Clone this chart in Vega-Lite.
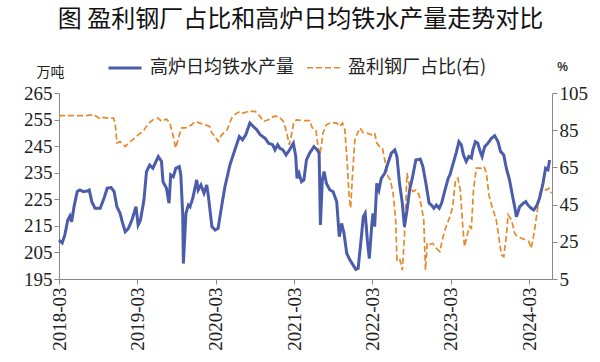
{
"$schema": "https://vega.github.io/schema/vega-lite/v6.json",
"width": 493, "height": 186,
"autosize": {"type": "none"},
"padding": {"left": 59, "top": 93, "right": 48, "bottom": 83},
"background": "white",
"title": {"text": "图 盈利钢厂占比和高炉日均铁水产量走势对比", "font": "Noto Sans CJK SC", "fontSize": 24, "fontWeight": "normal", "color": "#111", "anchor": "middle", "offset": 18, "dx": -5},
"config": {
  "view": {"stroke": null},
  "axis": {"domainColor": "#888", "tickColor": "#888", "labelFont": "Liberation Serif", "labelFontSize": 19, "labelColor": "#222", "grid": false, "tickSize": 5, "labelPadding": 2},
  "legend": {"title": null, "orient": "none", "legendX": 48, "legendY": -43, "direction": "horizontal", "symbolType": "stroke", "symbolSize": 1089, "labelFont": "Noto Sans CJK SC", "labelFontSize": 18, "labelColor": "#222", "labelOffset": 7, "columnPadding": 9, "padding": 0, "labelLimit": 300}
},
"data": {"values": [
{"d":"2018-03-01","s":"高炉日均铁水产量","v":209.6},
{"d":"2018-03-16","s":"高炉日均铁水产量","v":208.6},
{"d":"2018-03-28","s":"高炉日均铁水产量","v":211.5},
{"d":"2018-04-11","s":"高炉日均铁水产量","v":217.2},
{"d":"2018-04-21","s":"高炉日均铁水产量","v":218.7},
{"d":"2018-04-29","s":"高炉日均铁水产量","v":216.5},
{"d":"2018-05-10","s":"高炉日均铁水产量","v":222.2},
{"d":"2018-05-25","s":"高炉日均铁水产量","v":227.9},
{"d":"2018-06-07","s":"高炉日均铁水产量","v":228.5},
{"d":"2018-06-22","s":"高炉日均铁水产量","v":227.9},
{"d":"2018-07-11","s":"高炉日均铁水产量","v":228.1},
{"d":"2018-07-20","s":"高炉日均铁水产量","v":228.5},
{"d":"2018-08-01","s":"高炉日均铁水产量","v":224.1},
{"d":"2018-08-16","s":"高炉日均铁水产量","v":221.6},
{"d":"2018-09-09","s":"高炉日均铁水产量","v":221.6},
{"d":"2018-09-27","s":"高炉日均铁水产量","v":225.4},
{"d":"2018-10-12","s":"高炉日均铁水产量","v":229.2},
{"d":"2018-10-30","s":"高炉日均铁水产量","v":229.4},
{"d":"2018-11-13","s":"高炉日均铁水产量","v":227.9},
{"d":"2018-11-26","s":"高炉日均铁水产量","v":222.2},
{"d":"2018-12-11","s":"高炉日均铁水产量","v":219.7},
{"d":"2018-12-23","s":"高炉日均铁水产量","v":215.9},
{"d":"2019-01-04","s":"高炉日均铁水产量","v":212.8},
{"d":"2019-01-19","s":"高炉日均铁水产量","v":214.1},
{"d":"2019-02-04","s":"高炉日均铁水产量","v":217.2},
{"d":"2019-02-23","s":"高炉日均铁水产量","v":222.2},
{"d":"2019-03-05","s":"高炉日均铁水产量","v":215.3},
{"d":"2019-03-16","s":"高炉日均铁水产量","v":217.2},
{"d":"2019-04-01","s":"高炉日均铁水产量","v":224.7},
{"d":"2019-04-13","s":"高炉日均铁水产量","v":235.4},
{"d":"2019-04-28","s":"高炉日均铁水产量","v":237.9},
{"d":"2019-05-13","s":"高炉日均铁水产量","v":236.7},
{"d":"2019-06-07","s":"高炉日均铁水产量","v":241.1},
{"d":"2019-06-22","s":"高炉日均铁水产量","v":239.2},
{"d":"2019-06-29","s":"高炉日均铁水产量","v":231.6},
{"d":"2019-07-15","s":"高炉日均铁水产量","v":229.2},
{"d":"2019-07-27","s":"高炉日均铁水产量","v":223.5},
{"d":"2019-08-04","s":"高炉日均铁水产量","v":234.2},
{"d":"2019-08-16","s":"高炉日均铁水产量","v":233.5},
{"d":"2019-08-28","s":"高炉日均铁水产量","v":236.7},
{"d":"2019-09-13","s":"高炉日均铁水产量","v":237.3},
{"d":"2019-09-20","s":"高炉日均铁水产量","v":234.2},
{"d":"2019-09-29","s":"高炉日均铁水产量","v":219.1},
{"d":"2019-10-02","s":"高炉日均铁水产量","v":200.8},
{"d":"2019-10-14","s":"高炉日均铁水产量","v":219.7},
{"d":"2019-10-25","s":"高炉日均铁水产量","v":222.8},
{"d":"2019-11-02","s":"高炉日均铁水产量","v":222.2},
{"d":"2019-11-15","s":"高炉日均铁水产量","v":225.4},
{"d":"2019-12-03","s":"高炉日均铁水产量","v":232.3},
{"d":"2019-12-10","s":"高炉日均铁水产量","v":228.5},
{"d":"2019-12-23","s":"高炉日均铁水产量","v":230.4},
{"d":"2020-01-06","s":"高炉日均铁水产量","v":227.3},
{"d":"2020-01-19","s":"高炉日均铁水产量","v":230.4},
{"d":"2020-01-26","s":"高炉日均铁水产量","v":226.6},
{"d":"2020-02-12","s":"高炉日均铁水产量","v":214.7},
{"d":"2020-02-27","s":"高炉日均铁水产量","v":213.4},
{"d":"2020-03-12","s":"高炉日均铁水产量","v":214.1},
{"d":"2020-03-28","s":"高炉日均铁水产量","v":222.2},
{"d":"2020-04-13","s":"高炉日均铁水产量","v":229.8},
{"d":"2020-05-06","s":"高炉日均铁水产量","v":237.9},
{"d":"2020-05-29","s":"高炉日均铁水产量","v":243.6},
{"d":"2020-06-19","s":"高炉日均铁水产量","v":248.6},
{"d":"2020-07-04","s":"高炉日均铁水产量","v":247.4},
{"d":"2020-07-19","s":"高炉日均铁水产量","v":249.3},
{"d":"2020-08-07","s":"高炉日均铁水产量","v":253.7},
{"d":"2020-08-23","s":"高炉日均铁水产量","v":252.4},
{"d":"2020-09-08","s":"高炉日均铁水产量","v":251.2},
{"d":"2020-09-24","s":"高炉日均铁水产量","v":249.3},
{"d":"2020-10-06","s":"高炉日均铁水产量","v":248.6},
{"d":"2020-10-17","s":"高炉日均铁水产量","v":248.0},
{"d":"2020-11-02","s":"高炉日均铁水产量","v":246.1},
{"d":"2020-11-22","s":"高炉日均铁水产量","v":245.5},
{"d":"2020-12-02","s":"高炉日均铁水产量","v":243.6},
{"d":"2020-12-15","s":"高炉日均铁水产量","v":245.5},
{"d":"2020-12-25","s":"高炉日均铁水产量","v":244.2},
{"d":"2021-01-08","s":"高炉日均铁水产量","v":243.6},
{"d":"2021-01-23","s":"高炉日均铁水产量","v":241.7},
{"d":"2021-02-08","s":"高炉日均铁水产量","v":243.6},
{"d":"2021-02-26","s":"高炉日均铁水产量","v":246.1},
{"d":"2021-03-09","s":"高炉日均铁水产量","v":241.1},
{"d":"2021-03-15","s":"高炉日均铁水产量","v":232.9},
{"d":"2021-03-24","s":"高炉日均铁水产量","v":234.8},
{"d":"2021-04-05","s":"高炉日均铁水产量","v":231.6},
{"d":"2021-04-16","s":"高炉日均铁水产量","v":232.3},
{"d":"2021-04-28","s":"高炉日均铁水产量","v":239.8},
{"d":"2021-05-13","s":"高炉日均铁水产量","v":242.4},
{"d":"2021-06-02","s":"高炉日均铁水产量","v":244.8},
{"d":"2021-06-17","s":"高炉日均铁水产量","v":243.6},
{"d":"2021-06-26","s":"高炉日均铁水产量","v":242.4},
{"d":"2021-07-02","s":"高炉日均铁水产量","v":215.3},
{"d":"2021-07-11","s":"高炉日均铁水产量","v":232.3},
{"d":"2021-07-19","s":"高炉日均铁水产量","v":235.4},
{"d":"2021-07-30","s":"高炉日均铁水产量","v":231.0},
{"d":"2021-08-15","s":"高炉日均铁水产量","v":228.5},
{"d":"2021-08-30","s":"高炉日均铁水产量","v":227.9},
{"d":"2021-09-16","s":"高炉日均铁水产量","v":224.1},
{"d":"2021-09-28","s":"高炉日均铁水产量","v":210.9},
{"d":"2021-10-09","s":"高炉日均铁水产量","v":215.9},
{"d":"2021-10-20","s":"高炉日均铁水产量","v":212.2},
{"d":"2021-11-02","s":"高炉日均铁水产量","v":204.6},
{"d":"2021-11-17","s":"高炉日均铁水产量","v":202.1},
{"d":"2021-12-02","s":"高炉日均铁水产量","v":200.2},
{"d":"2021-12-14","s":"高炉日均铁水产量","v":198.6},
{"d":"2021-12-25","s":"高炉日均铁水产量","v":199.0},
{"d":"2022-01-06","s":"高炉日均铁水产量","v":208.4},
{"d":"2022-01-18","s":"高炉日均铁水产量","v":218.4},
{"d":"2022-01-27","s":"高炉日均铁水产量","v":219.7},
{"d":"2022-02-06","s":"高炉日均铁水产量","v":209.6},
{"d":"2022-02-15","s":"高炉日均铁水产量","v":202.7},
{"d":"2022-02-26","s":"高炉日均铁水产量","v":214.7},
{"d":"2022-03-04","s":"高炉日均铁水产量","v":219.7},
{"d":"2022-03-12","s":"高炉日均铁水产量","v":214.7},
{"d":"2022-03-22","s":"高炉日均铁水产量","v":231.0},
{"d":"2022-04-01","s":"高炉日均铁水产量","v":228.5},
{"d":"2022-04-12","s":"高炉日均铁水产量","v":232.9},
{"d":"2022-04-28","s":"高炉日均铁水产量","v":234.8},
{"d":"2022-05-13","s":"高炉日均铁水产量","v":238.6},
{"d":"2022-05-29","s":"高炉日均铁水产量","v":242.4},
{"d":"2022-06-14","s":"高炉日均铁水产量","v":243.6},
{"d":"2022-06-24","s":"高炉日均铁水产量","v":241.1},
{"d":"2022-07-06","s":"高炉日均铁水产量","v":231.0},
{"d":"2022-07-19","s":"高炉日均铁水产量","v":223.5},
{"d":"2022-07-29","s":"高炉日均铁水产量","v":214.7},
{"d":"2022-08-10","s":"高炉日均铁水产量","v":221.0},
{"d":"2022-08-22","s":"高炉日均铁水产量","v":228.5},
{"d":"2022-09-05","s":"高炉日均铁水产量","v":233.5},
{"d":"2022-09-20","s":"高炉日均铁水产量","v":239.8},
{"d":"2022-10-11","s":"高炉日均铁水产量","v":240.1},
{"d":"2022-10-23","s":"高炉日均铁水产量","v":237.3},
{"d":"2022-11-06","s":"高炉日均铁水产量","v":231.0},
{"d":"2022-11-21","s":"高炉日均铁水产量","v":223.5},
{"d":"2022-12-02","s":"高炉日均铁水产量","v":222.8},
{"d":"2022-12-13","s":"高炉日均铁水产量","v":221.6},
{"d":"2022-12-25","s":"高炉日均铁水产量","v":222.8},
{"d":"2023-01-07","s":"高炉日均铁水产量","v":221.6},
{"d":"2023-01-18","s":"高炉日均铁水产量","v":223.5},
{"d":"2023-02-03","s":"高炉日均铁水产量","v":228.5},
{"d":"2023-02-18","s":"高炉日均铁水产量","v":232.9},
{"d":"2023-02-26","s":"高炉日均铁水产量","v":234.2},
{"d":"2023-03-11","s":"高炉日均铁水产量","v":237.9},
{"d":"2023-03-27","s":"高炉日均铁水产量","v":242.4},
{"d":"2023-04-09","s":"高炉日均铁水产量","v":246.7},
{"d":"2023-04-20","s":"高炉日均铁水产量","v":245.5},
{"d":"2023-04-30","s":"高炉日均铁水产量","v":241.7},
{"d":"2023-05-13","s":"高炉日均铁水产量","v":239.2},
{"d":"2023-05-25","s":"高炉日均铁水产量","v":241.1},
{"d":"2023-06-06","s":"高炉日均铁水产量","v":240.5},
{"d":"2023-06-13","s":"高炉日均铁水产量","v":243.6},
{"d":"2023-06-25","s":"高炉日均铁水产量","v":246.7},
{"d":"2023-07-06","s":"高炉日均铁水产量","v":246.1},
{"d":"2023-07-17","s":"高炉日均铁水产量","v":243.0},
{"d":"2023-07-26","s":"高炉日均铁水产量","v":241.1},
{"d":"2023-08-07","s":"高炉日均铁水产量","v":244.8},
{"d":"2023-08-22","s":"高炉日均铁水产量","v":246.1},
{"d":"2023-09-08","s":"高炉日均铁水产量","v":248.0},
{"d":"2023-09-23","s":"高炉日均铁水产量","v":248.9},
{"d":"2023-10-08","s":"高炉日均铁水产量","v":246.7},
{"d":"2023-10-20","s":"高炉日均铁水产量","v":243.0},
{"d":"2023-11-04","s":"高炉日均铁水产量","v":241.7},
{"d":"2023-11-16","s":"高炉日均铁水产量","v":236.7},
{"d":"2023-12-01","s":"高炉日均铁水产量","v":232.3},
{"d":"2023-12-14","s":"高炉日均铁水产量","v":226.6},
{"d":"2023-12-25","s":"高炉日均铁水产量","v":222.2},
{"d":"2024-01-02","s":"高炉日均铁水产量","v":218.4},
{"d":"2024-01-10","s":"高炉日均铁水产量","v":220.3},
{"d":"2024-01-17","s":"高炉日均铁水产量","v":222.2},
{"d":"2024-02-03","s":"高炉日均铁水产量","v":223.5},
{"d":"2024-02-15","s":"高炉日均铁水产量","v":224.1},
{"d":"2024-02-25","s":"高炉日均铁水产量","v":222.8},
{"d":"2024-03-11","s":"高炉日均铁水产量","v":221.6},
{"d":"2024-03-23","s":"高炉日均铁水产量","v":221.0},
{"d":"2024-04-07","s":"高炉日均铁水产量","v":222.8},
{"d":"2024-04-19","s":"高炉日均铁水产量","v":225.4},
{"d":"2024-05-05","s":"高炉日均铁水产量","v":231.0},
{"d":"2024-05-17","s":"高炉日均铁水产量","v":236.7},
{"d":"2024-05-28","s":"高炉日均铁水产量","v":236.1},
{"d":"2024-06-05","s":"高炉日均铁水产量","v":239.8},
{"d":"2018-03-01","s":"盈利钢厂占比(右)","v":92.8},
{"d":"2018-05-06","s":"盈利钢厂占比(右)","v":92.8},
{"d":"2018-07-08","s":"盈利钢厂占比(右)","v":92.8},
{"d":"2018-08-08","s":"盈利钢厂占比(右)","v":93.3},
{"d":"2018-08-24","s":"盈利钢厂占比(右)","v":92.4},
{"d":"2018-09-09","s":"盈利钢厂占比(右)","v":91.0},
{"d":"2018-09-24","s":"盈利钢厂占比(右)","v":91.9},
{"d":"2018-10-17","s":"盈利钢厂占比(右)","v":91.5},
{"d":"2018-11-10","s":"盈利钢厂占比(右)","v":91.5},
{"d":"2018-11-18","s":"盈利钢厂占比(右)","v":88.8},
{"d":"2018-11-26","s":"盈利钢厂占比(右)","v":78.1},
{"d":"2018-12-11","s":"盈利钢厂占比(右)","v":78.9},
{"d":"2019-01-04","s":"盈利钢厂占比(右)","v":76.2},
{"d":"2019-01-19","s":"盈利钢厂占比(右)","v":78.1},
{"d":"2019-02-11","s":"盈利钢厂占比(右)","v":80.2},
{"d":"2019-03-05","s":"盈利钢厂占比(右)","v":82.5},
{"d":"2019-03-28","s":"盈利钢厂占比(右)","v":84.3},
{"d":"2019-04-21","s":"盈利钢厂占比(右)","v":88.5},
{"d":"2019-05-13","s":"盈利钢厂占比(右)","v":90.6},
{"d":"2019-06-07","s":"盈利钢厂占比(右)","v":91.5},
{"d":"2019-06-22","s":"盈利钢厂占比(右)","v":89.7},
{"d":"2019-07-15","s":"盈利钢厂占比(右)","v":91.0},
{"d":"2019-07-31","s":"盈利钢厂占比(右)","v":88.8},
{"d":"2019-08-16","s":"盈利钢厂占比(右)","v":81.6},
{"d":"2019-08-27","s":"盈利钢厂占比(右)","v":75.4},
{"d":"2019-09-09","s":"盈利钢厂占比(右)","v":80.8},
{"d":"2019-09-24","s":"盈利钢厂占比(右)","v":86.2},
{"d":"2019-10-10","s":"盈利钢厂占比(右)","v":86.2},
{"d":"2019-10-25","s":"盈利钢厂占比(右)","v":87.0},
{"d":"2019-11-10","s":"盈利钢厂占比(右)","v":87.9},
{"d":"2019-11-26","s":"盈利钢厂占比(右)","v":89.7},
{"d":"2019-12-18","s":"盈利钢厂占比(右)","v":88.8},
{"d":"2020-01-11","s":"盈利钢厂占比(右)","v":87.9},
{"d":"2020-02-01","s":"盈利钢厂占比(右)","v":87.0},
{"d":"2020-02-12","s":"盈利钢厂占比(右)","v":83.5},
{"d":"2020-02-27","s":"盈利钢厂占比(右)","v":81.6},
{"d":"2020-03-12","s":"盈利钢厂占比(右)","v":78.9},
{"d":"2020-03-28","s":"盈利钢厂占比(右)","v":82.5},
{"d":"2020-04-23","s":"盈利钢厂占比(右)","v":85.2},
{"d":"2020-05-14","s":"盈利钢厂占比(右)","v":91.5},
{"d":"2020-06-07","s":"盈利钢厂占比(右)","v":94.2},
{"d":"2020-06-22","s":"盈利钢厂占比(右)","v":95.1},
{"d":"2020-07-07","s":"盈利钢厂占比(右)","v":94.2},
{"d":"2020-07-30","s":"盈利钢厂占比(右)","v":95.1},
{"d":"2020-09-01","s":"盈利钢厂占比(右)","v":95.1},
{"d":"2020-09-24","s":"盈利钢厂占比(右)","v":92.4},
{"d":"2020-10-09","s":"盈利钢厂占比(右)","v":89.7},
{"d":"2020-11-02","s":"盈利钢厂占比(右)","v":90.6},
{"d":"2020-11-25","s":"盈利钢厂占比(右)","v":92.4},
{"d":"2020-12-18","s":"盈利钢厂占比(右)","v":92.4},
{"d":"2021-01-11","s":"盈利钢厂占比(右)","v":89.7},
{"d":"2021-01-26","s":"盈利钢厂占比(右)","v":83.5},
{"d":"2021-02-07","s":"盈利钢厂占比(右)","v":77.2},
{"d":"2021-02-19","s":"盈利钢厂占比(右)","v":83.6},
{"d":"2021-02-28","s":"盈利钢厂占比(右)","v":89.3},
{"d":"2021-03-12","s":"盈利钢厂占比(右)","v":90.6},
{"d":"2021-04-12","s":"盈利钢厂占比(右)","v":90.2},
{"d":"2021-05-13","s":"盈利钢厂占比(右)","v":90.2},
{"d":"2021-05-25","s":"盈利钢厂占比(右)","v":86.2},
{"d":"2021-06-11","s":"盈利钢厂占比(右)","v":85.2},
{"d":"2021-06-21","s":"盈利钢厂占比(右)","v":76.2},
{"d":"2021-06-29","s":"盈利钢厂占比(右)","v":71.8},
{"d":"2021-07-07","s":"盈利钢厂占比(右)","v":77.2},
{"d":"2021-07-14","s":"盈利钢厂占比(右)","v":83.5},
{"d":"2021-07-30","s":"盈利钢厂占比(右)","v":87.9},
{"d":"2021-08-23","s":"盈利钢厂占比(右)","v":89.2},
{"d":"2021-09-16","s":"盈利钢厂占比(右)","v":88.8},
{"d":"2021-10-01","s":"盈利钢厂占比(右)","v":87.0},
{"d":"2021-10-13","s":"盈利钢厂占比(右)","v":88.8},
{"d":"2021-10-24","s":"盈利钢厂占比(右)","v":85.2},
{"d":"2021-11-04","s":"盈利钢厂占比(右)","v":67.3},
{"d":"2021-11-13","s":"盈利钢厂占比(右)","v":49.3},
{"d":"2021-11-20","s":"盈利钢厂占比(右)","v":43.1},
{"d":"2021-11-29","s":"盈利钢厂占比(右)","v":61.9},
{"d":"2021-12-10","s":"盈利钢厂占比(右)","v":79.9},
{"d":"2021-12-25","s":"盈利钢厂占比(右)","v":84.3},
{"d":"2022-01-03","s":"盈利钢厂占比(右)","v":86.2},
{"d":"2022-01-18","s":"盈利钢厂占比(右)","v":83.5},
{"d":"2022-02-04","s":"盈利钢厂占比(右)","v":83.5},
{"d":"2022-02-26","s":"盈利钢厂占比(右)","v":82.5},
{"d":"2022-03-12","s":"盈利钢厂占比(右)","v":83.5},
{"d":"2022-03-22","s":"盈利钢厂占比(右)","v":78.1},
{"d":"2022-04-04","s":"盈利钢厂占比(右)","v":76.2},
{"d":"2022-04-17","s":"盈利钢厂占比(右)","v":75.4},
{"d":"2022-04-28","s":"盈利钢厂占比(右)","v":69.1},
{"d":"2022-05-13","s":"盈利钢厂占比(右)","v":60.1},
{"d":"2022-05-24","s":"盈利钢厂占比(右)","v":58.3},
{"d":"2022-06-06","s":"盈利钢厂占比(右)","v":51.1},
{"d":"2022-06-18","s":"盈利钢厂占比(右)","v":36.8},
{"d":"2022-06-24","s":"盈利钢厂占比(右)","v":15.2},
{"d":"2022-07-06","s":"盈利钢厂占比(右)","v":16.1},
{"d":"2022-07-19","s":"盈利钢厂占比(右)","v":9.8},
{"d":"2022-07-29","s":"盈利钢厂占比(右)","v":27.8},
{"d":"2022-08-10","s":"盈利钢厂占比(右)","v":61.9},
{"d":"2022-08-22","s":"盈利钢厂占比(右)","v":54.7},
{"d":"2022-09-07","s":"盈利钢厂占比(右)","v":52.0},
{"d":"2022-09-20","s":"盈利钢厂占比(右)","v":52.9},
{"d":"2022-10-05","s":"盈利钢厂占比(右)","v":50.2},
{"d":"2022-10-16","s":"盈利钢厂占比(右)","v":43.9},
{"d":"2022-10-27","s":"盈利钢厂占比(右)","v":36.8},
{"d":"2022-11-04","s":"盈利钢厂占比(右)","v":9.8},
{"d":"2022-11-12","s":"盈利钢厂占比(右)","v":24.2},
{"d":"2022-11-21","s":"盈利钢厂占比(右)","v":23.3},
{"d":"2022-12-07","s":"盈利钢厂占比(右)","v":24.2},
{"d":"2022-12-25","s":"盈利钢厂占比(右)","v":21.5},
{"d":"2023-01-10","s":"盈利钢厂占比(右)","v":19.7},
{"d":"2023-01-25","s":"盈利钢厂占比(右)","v":27.8},
{"d":"2023-02-11","s":"盈利钢厂占比(右)","v":34.1},
{"d":"2023-02-26","s":"盈利钢厂占比(右)","v":38.5},
{"d":"2023-03-11","s":"盈利钢厂占比(右)","v":43.9},
{"d":"2023-03-24","s":"盈利钢厂占比(右)","v":58.3},
{"d":"2023-04-04","s":"盈利钢厂占比(右)","v":59.2},
{"d":"2023-04-15","s":"盈利钢厂占比(右)","v":52.9},
{"d":"2023-04-27","s":"盈利钢厂占比(右)","v":33.2},
{"d":"2023-05-05","s":"盈利钢厂占比(右)","v":22.4},
{"d":"2023-05-16","s":"盈利钢厂占比(右)","v":27.8},
{"d":"2023-05-28","s":"盈利钢厂占比(右)","v":33.2},
{"d":"2023-06-06","s":"盈利钢厂占比(右)","v":32.3},
{"d":"2023-06-16","s":"盈利钢厂占比(右)","v":52.9},
{"d":"2023-06-29","s":"盈利钢厂占比(右)","v":64.6},
{"d":"2023-07-22","s":"盈利钢厂占比(右)","v":64.6},
{"d":"2023-08-04","s":"盈利钢厂占比(右)","v":65.5},
{"d":"2023-08-15","s":"盈利钢厂占比(右)","v":61.9},
{"d":"2023-08-27","s":"盈利钢厂占比(右)","v":50.2},
{"d":"2023-09-08","s":"盈利钢厂占比(右)","v":44.8},
{"d":"2023-09-18","s":"盈利钢厂占比(右)","v":41.2},
{"d":"2023-09-30","s":"盈利钢厂占比(右)","v":36.8},
{"d":"2023-10-13","s":"盈利钢厂占比(右)","v":26.9},
{"d":"2023-10-24","s":"盈利钢厂占比(右)","v":17.9},
{"d":"2023-11-04","s":"盈利钢厂占比(右)","v":17.0},
{"d":"2023-11-16","s":"盈利钢厂占比(右)","v":27.8},
{"d":"2023-11-24","s":"盈利钢厂占比(右)","v":39.5},
{"d":"2023-12-10","s":"盈利钢厂占比(右)","v":36.8},
{"d":"2023-12-25","s":"盈利钢厂占比(右)","v":29.6},
{"d":"2024-01-05","s":"盈利钢厂占比(右)","v":27.8},
{"d":"2024-01-25","s":"盈利钢厂占比(右)","v":26.9},
{"d":"2024-02-15","s":"盈利钢厂占比(右)","v":26.0},
{"d":"2024-02-29","s":"盈利钢厂占比(右)","v":25.1},
{"d":"2024-03-11","s":"盈利钢厂占比(右)","v":21.5},
{"d":"2024-03-23","s":"盈利钢厂占比(右)","v":28.7},
{"d":"2024-04-07","s":"盈利钢厂占比(右)","v":40.4},
{"d":"2024-04-19","s":"盈利钢厂占比(右)","v":51.1},
{"d":"2024-05-05","s":"盈利钢厂占比(右)","v":53.8},
{"d":"2024-05-20","s":"盈利钢厂占比(右)","v":52.9},
{"d":"2024-06-02","s":"盈利钢厂占比(右)","v":53.8},
{"d":"2024-06-13","s":"盈利钢厂占比(右)","v":51.1}
]},
"encoding": {
  "x": {"field": "d", "type": "temporal",
    "scale": {"type": "utc", "domain": [{"year": 2018, "month": 3, "date": 1, "utc": true}, {"year": 2024, "month": 6, "date": 16, "utc": true}]},
    "axis": {"title": null, "format": "%Y-%m", "labelAngle": -90, "labelPadding": 3,
      "values": [{"year": 2018, "month": 3, "date": 1, "utc": true}, {"year": 2019, "month": 3, "date": 1, "utc": true}, {"year": 2020, "month": 3, "date": 1, "utc": true}, {"year": 2021, "month": 3, "date": 1, "utc": true}, {"year": 2022, "month": 3, "date": 1, "utc": true}, {"year": 2023, "month": 3, "date": 1, "utc": true}, {"year": 2024, "month": 3, "date": 1, "utc": true}]}},
  "color": {"field": "s", "type": "nominal", "scale": {"domain": ["高炉日均铁水产量", "盈利钢厂占比(右)"], "range": ["#4b5cab", "#e5892a"]}},
  "strokeDash": {"field": "s", "type": "nominal", "scale": {"domain": ["高炉日均铁水产量", "盈利钢厂占比(右)"], "range": [[1, 0], [6, 3]]}},
  "strokeWidth": {"field": "s", "type": "nominal", "scale": {"domain": ["高炉日均铁水产量", "盈利钢厂占比(右)"], "range": [3, 1.7]}}
},
"layer": [
  {"transform": [{"filter": "datum.s === '盈利钢厂占比(右)'"}],
   "mark": {"type": "line"},
   "encoding": {"y": {"field": "v", "type": "quantitative", "scale": {"domain": [5, 105], "nice": false, "zero": false},
     "axis": {"orient": "right", "values": [5, 25, 45, 65, 85, 105], "title": "%", "titleAngle": 0, "titleX": 10, "titleY": -27, "titleAlign": "center", "titleBaseline": "middle", "titleFont": "Liberation Sans", "titleFontSize": 12, "titleFontWeight": "bold", "titleColor": "#333"}}}},
  {"transform": [{"filter": "datum.s === '高炉日均铁水产量'"}],
   "mark": {"type": "line"},
   "encoding": {"y": {"field": "v", "type": "quantitative", "scale": {"domain": [195, 265], "nice": false, "zero": false},
     "axis": {"orient": "left", "values": [195, 205, 215, 225, 235, 245, 255, 265], "title": "万吨", "titleAngle": 0, "titleX": -9, "titleY": -21, "titleAlign": "center", "titleBaseline": "middle", "titleFont": "Noto Sans CJK SC", "titleFontSize": 14, "titleFontWeight": "normal", "titleColor": "#222"}}}}
],
"resolve": {"scale": {"y": "independent"}}
}
